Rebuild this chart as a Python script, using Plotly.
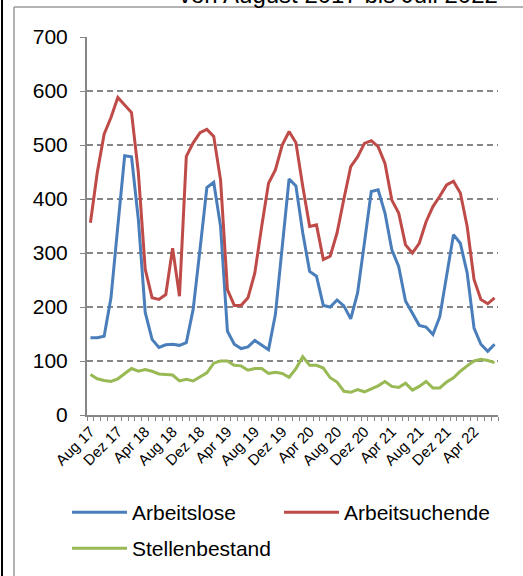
import plotly.graph_objects as go

# Monatswerte August 2017 bis Juli 2022
months = [
    "Aug 17", "Sep 17", "Okt 17", "Nov 17", "Dez 17", "Jan 18", "Feb 18", "Mär 18",
    "Apr 18", "Mai 18", "Jun 18", "Jul 18", "Aug 18", "Sep 18", "Okt 18", "Nov 18",
    "Dez 18", "Jan 19", "Feb 19", "Mär 19", "Apr 19", "Mai 19", "Jun 19", "Jul 19",
    "Aug 19", "Sep 19", "Okt 19", "Nov 19", "Dez 19", "Jan 20", "Feb 20", "Mär 20",
    "Apr 20", "Mai 20", "Jun 20", "Jul 20", "Aug 20", "Sep 20", "Okt 20", "Nov 20",
    "Dez 20", "Jan 21", "Feb 21", "Mär 21", "Apr 21", "Mai 21", "Jun 21", "Jul 21",
    "Aug 21", "Sep 21", "Okt 21", "Nov 21", "Dez 21", "Jan 22", "Feb 22", "Mär 22",
    "Apr 22", "Mai 22", "Jun 22", "Jul 22",
]

arbeitslose = [
    143, 143, 146, 217, 350, 480, 478, 362, 190, 140, 125, 130, 131, 129, 134, 196,
    307, 421, 431, 349, 155, 131, 123, 126, 138, 130, 121, 186, 309, 437, 424, 337,
    266, 257, 203, 200, 213, 202, 178, 226, 319, 414, 417, 374, 306, 275, 211, 189,
    166, 163, 149, 182, 257, 334, 318, 263, 161, 131, 118, 131,
]

arbeitsuchende = [
    356, 449, 520, 551, 588, 574, 560, 449, 270, 217, 214, 223, 309, 220, 479, 504,
    523, 529, 516, 435, 232, 203, 203, 217, 263, 349, 429, 454, 500, 525, 504, 423,
    349, 352, 288, 294, 337, 400, 460, 478, 503, 508, 497, 466, 398, 374, 315, 300,
    318, 358, 386, 405, 426, 433, 411, 349, 251, 214, 206, 217,
]

stellenbestand = [
    75, 67, 64, 62, 67, 76, 86, 81, 84, 81, 76, 75, 74, 63, 66, 63,
    71, 78, 96, 100, 100, 92, 91, 83, 86, 86, 77, 79, 77, 70, 86, 108,
    92, 92, 87, 69, 61, 44, 42, 47, 43, 49, 54, 62, 53, 51, 59, 46,
    53, 62, 50, 50, 61, 69, 81, 91, 100, 103, 101, 97,
]

FONT = "Liberation Sans, Arial, sans-serif"
GRID = "#868686"

# plot area in pixels: x 87..498, y 37..415
L, R, T, B = 87, 498, 37, 415


def px(x):
    return (x - L) / (R - L)


def py(y):
    return (B - y) / (B - T)


# name, values, colour, legend id, legend position (px)
series = [
    ("Arbeitslose", arbeitslose, "#4A7EBB", "legend", (67, 492)),
    ("Arbeitsuchende", arbeitsuchende, "#BE4B48", "legend2", (279, 492)),
    ("Stellenbestand", stellenbestand, "#98B954", "legend3", (67, 528)),
]

x = list(range(len(months)))

fig = go.Figure()
legends = {}
for name, vals, color, leg, (lx, ly) in series:
    fig.add_trace(go.Scatter(
        x=x, y=vals, name=name, mode="lines",
        line=dict(color=color, width=3),
        legend=leg,
    ))
    legends[leg] = dict(
        orientation="h", x=px(lx), y=py(ly), xanchor="left", yanchor="top",
        font=dict(size=21), itemwidth=55,
        bgcolor="rgba(0,0,0,0)",
    )

label_idx = x[::4][:15]

fig.update_layout(
    width=523, height=576,
    margin=dict(l=L, r=523 - R, t=T, b=576 - B, autoexpand=False),
    paper_bgcolor="white",
    plot_bgcolor="white",
    font=dict(family=FONT, color="black"),
    xaxis=dict(
        range=[-0.5, len(months) - 0.5],
        tickvals=label_idx,
        ticktext=[months[i] for i in label_idx],
        tickangle=-45,
        tickfont=dict(size=15),
        ticks="",
        showgrid=False,
        zeroline=False,
        showline=True, linecolor=GRID, linewidth=2,
        minor=dict(
            tickvals=[i - 0.5 for i in range(len(months) + 1)],
            ticks="outside", ticklen=4, tickcolor=GRID, tickwidth=1,
            showgrid=False,
        ),
    ),
    yaxis=dict(
        range=[0, 700],
        dtick=100,
        tickfont=dict(size=21),
        ticks="outside", ticklen=5, tickcolor=GRID,
        ticklabelstandoff=8,
        showgrid=True, gridcolor=GRID, gridwidth=1.5, griddash="6px,4px",
        zeroline=False,
        showline=True, linecolor=GRID, linewidth=2,
    ),
    showlegend=True,
    **legends,
)

# abgeschnittener Titel oben
fig.add_annotation(
    text="von August 2017 bis Juli 2022",
    xref="paper", yref="paper", x=px(500), y=py(-5),
    xanchor="right", yanchor="middle", showarrow=False,
    font=dict(size=24, color="black"),
)

# Rahmen
fig.add_shape(type="line", xref="paper", yref="paper",
              x0=px(2), x1=px(2), y0=py(0), y1=py(576),
              line=dict(color="black", width=2))
fig.add_shape(type="line", xref="paper", yref="paper",
              x0=px(14), x1=px(14), y0=py(7), y1=py(576),
              line=dict(color="#9a9a9a", width=1.5))
fig.add_shape(type="line", xref="paper", yref="paper",
              x0=px(14), x1=px(523), y0=py(7), y1=py(7),
              line=dict(color="#9a9a9a", width=1.5))

fig.write_html(
    "out.html",
    config={"displayModeBar": False},
    post_script="document.body.style.margin='0';",
)
